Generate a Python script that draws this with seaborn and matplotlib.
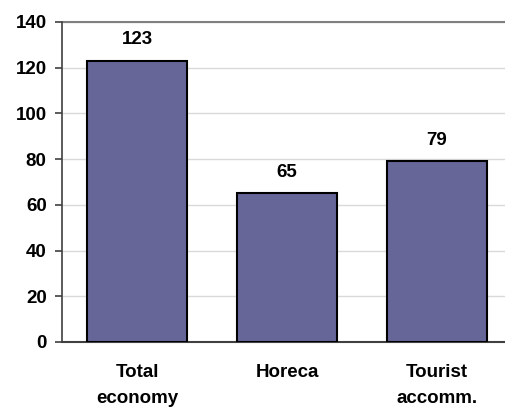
import pandas as pd
import numpy as np
import matplotlib.pyplot as plt
import seaborn as sns

categories = ['Total\neconomy', 'Horeca', 'Tourist\naccomm.']
values = [123, 65, 79]

df = pd.DataFrame({'category': categories, 'value': values})

sns.set_style('white')
plt.rcParams['font.family'] = ['Liberation Sans', 'DejaVu Sans']
plt.rcParams['font.weight'] = 'bold'
plt.rcParams['text.color'] = 'black'
plt.rcParams['xtick.labelcolor'] = 'black'
plt.rcParams['ytick.labelcolor'] = 'black'

fig = plt.figure(figsize=(5.05, 4.12), dpi=100)
ax = fig.add_axes([62 / 505, 1 - 342 / 412, (505 - 62) / 505, 320 / 412])

sns.barplot(data=df, x='category', y='value', color='#666699', saturation=1,
            width=0.667, edgecolor='black', linewidth=1.5, ax=ax, zorder=3)

ax.set_ylim(0, 140)
ax.set_xlim(-0.5, 2.453)
ax.set_yticks(np.arange(0, 141, 20))
ax.yaxis.grid(True, color='#d9d9d9', linewidth=1, zorder=0)
ax.axhline(140, color='#808080', linewidth=1.5, zorder=1, clip_on=False)

for i, v in enumerate(values):
    ax.annotate(str(v), (i, v), xytext=(0, 9), textcoords='offset points',
                ha='center', va='bottom', fontsize=13.5, fontweight='bold',
                color='black')

ax.set_xlabel('')
ax.set_ylabel('')
ax.tick_params(axis='y', which='both', left=True, length=5, width=1.2,
               color='#404040', labelsize=13.5, labelcolor='black', pad=6)
ax.tick_params(axis='x', bottom=False, labelsize=13.5, labelcolor='black', pad=12)
for lab in ax.get_xticklabels():
    lab.set_fontweight('bold')
    lab.set_linespacing(1.7)
for lab in ax.get_yticklabels():
    lab.set_fontweight('bold')

for s in ['top', 'right']:
    ax.spines[s].set_visible(False)
ax.spines['left'].set_color('#404040')
ax.spines['left'].set_linewidth(1.2)
ax.spines['bottom'].set_color('#404040')
ax.spines['bottom'].set_linewidth(1.5)

fig.savefig('out.png', dpi=100)
